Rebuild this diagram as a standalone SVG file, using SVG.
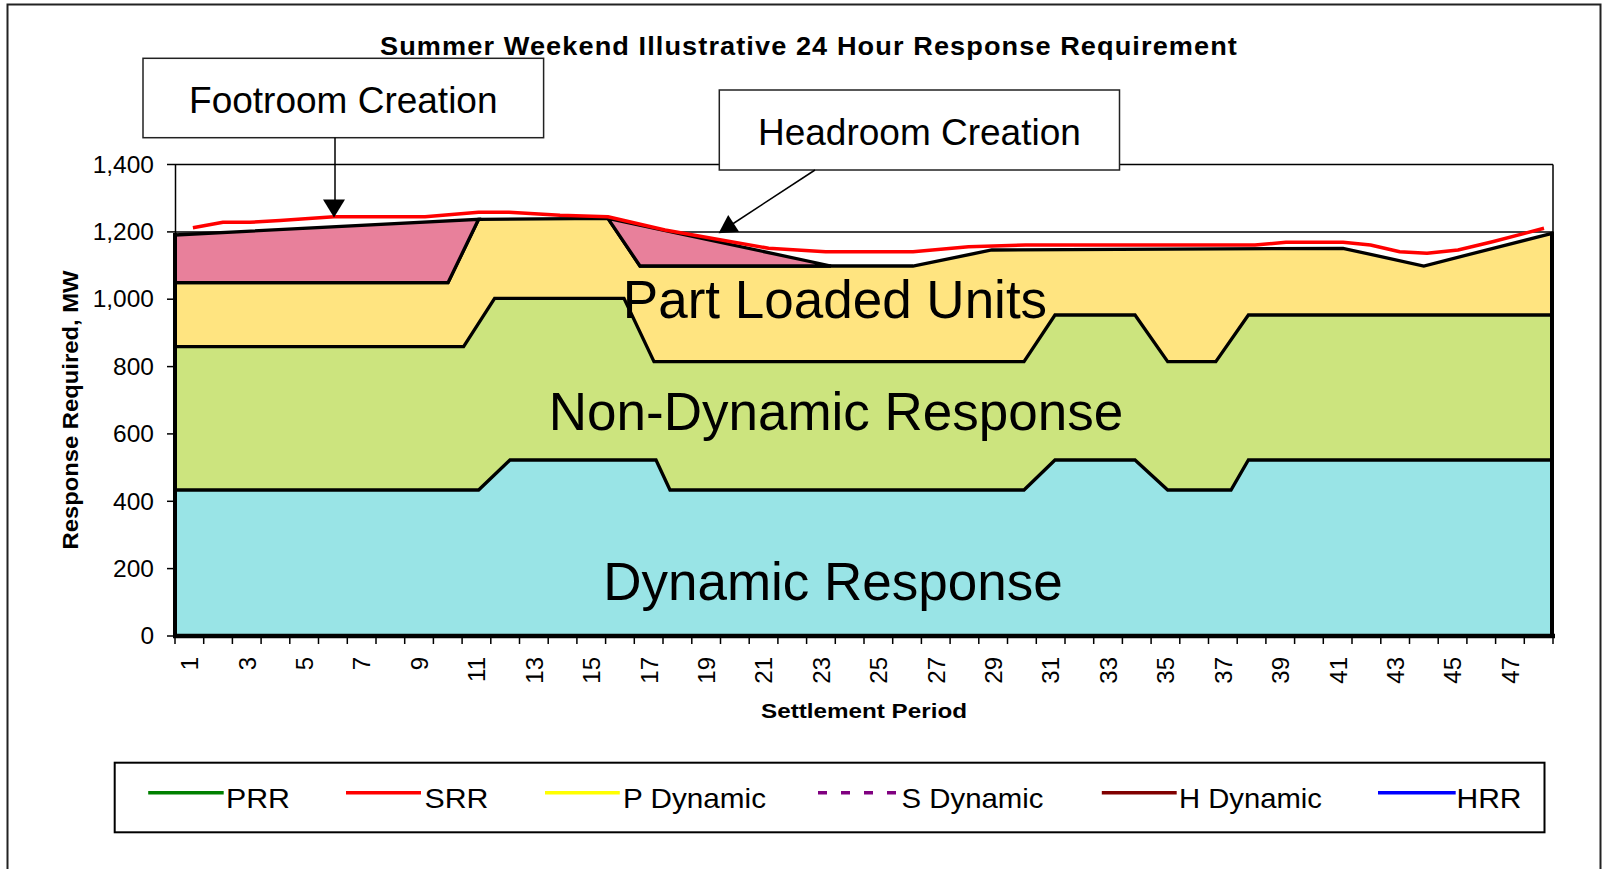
<svg xmlns="http://www.w3.org/2000/svg" width="1619" height="869" viewBox="0 0 1619 869">
<defs>
<style>
text{font-family:"Liberation Sans",Arial,sans-serif;fill:#000}
.b{font-weight:bold}
.area{stroke:#000;stroke-width:3.3;stroke-linejoin:miter}
.thin{stroke:#000;stroke-width:1.5;fill:none}
.tick{stroke:#000;stroke-width:1.5}
.ylab{font-size:23px;text-anchor:end}
.xlab{font-size:24px;text-anchor:end}
.big{font-size:53px;text-anchor:middle}
.box{fill:#fff;stroke:#222;stroke-width:1.5}
.boxtxt{font-size:37px;text-anchor:middle}
.leg{font-size:28px}
.legline{stroke-width:3.5;fill:none}
</style>
</defs>
<rect width="1619" height="869" fill="#fff"/>
<rect id="frame" x="7.5" y="4.5" width="1593" height="900" fill="none" stroke="#222" stroke-width="2"/>

<g id="plot">
<line class="thin" x1="175" y1="164.5" x2="1553" y2="164.5"/>
<line class="thin" x1="1553" y1="164.5" x2="1553" y2="636"/>
<line class="thin" x1="175" y1="231.9" x2="1553" y2="231.9"/>
<line class="thin" x1="175.5" y1="164.5" x2="175.5" y2="636"/>
<polygon id="part-loaded" class="area" fill="#FFE480" points="175,282.7 448,282.7 478.6,219.3 607.9,218.3 640,266 913,266 991.8,250 1343,248.3 1423.8,266 1552,233.3 1552,636 175,636"/>
<polygon id="footroom-area" class="area" fill="#E8809B" points="175,235 478.6,219.3 448,282.7 175,282.7"/>
<polygon id="headroom-area" class="area" fill="#E8809B" points="607.9,218.3 831,266 640,266"/>
<polygon id="non-dynamic" class="area" fill="#CCE47E" points="175,346.7 463.6,346.7 494.6,298.3 624,298.3 654,361.7 1024,361.7 1055,315 1135,315 1167.7,361.7 1215.8,361.7 1248.4,315 1552,315 1552,636 175,636"/>
<polygon id="dynamic" class="area" fill="#99E4E6" points="175,490 478.6,490 510,460 656,460 670,490 1024,490 1055,460 1135,460 1167.7,490 1231,490 1248.4,460 1552,460 1552,636 175,636"/>
<line x1="173" y1="636" x2="1555" y2="636" stroke="#000" stroke-width="4.5"/>
<line x1="1552" y1="232" x2="1552" y2="638" stroke="#000" stroke-width="4"/>
<line x1="175" y1="233" x2="175" y2="638" stroke="#000" stroke-width="4"/>
<polyline id="srr" fill="none" stroke="#FF0000" stroke-width="3.5" stroke-linejoin="round" points="192.9,227.7 223,222.3 250,222.3 280,220.5 334,216.7 425,216.7 478.6,212.3 509,212.3 560,215.3 607.9,216.7 665,230 768.6,248.3 825.7,251.7 913,251.7 968.6,246.7 1025.7,245 1255,245 1286,242.3 1343,242.3 1370.5,245 1399.7,251.7 1427,253.3 1458,250 1492.5,241.7 1544,228.3"/>
<text class="big" x="835" y="318">Part Loaded Units</text>
<text class="big" x="836" y="430">Non-Dynamic Response</text>
<text class="big" x="833" y="600">Dynamic Response</text>
</g>

<g id="y-axis">
<g class="tick">
<line x1="167" y1="636" x2="175" y2="636"/>
<line x1="167" y1="568.6" x2="175" y2="568.6"/>
<line x1="167" y1="501.3" x2="175" y2="501.3"/>
<line x1="167" y1="433.9" x2="175" y2="433.9"/>
<line x1="167" y1="366.6" x2="175" y2="366.6"/>
<line x1="167" y1="299.2" x2="175" y2="299.2"/>
<line x1="167" y1="231.9" x2="175" y2="231.9"/>
<line x1="167" y1="164.5" x2="175" y2="164.5"/>
</g>
<text class="ylab" x="154" y="644.2" textLength="13.6" lengthAdjust="spacingAndGlyphs">0</text>
<text class="ylab" x="154" y="576.8" textLength="40.9" lengthAdjust="spacingAndGlyphs">200</text>
<text class="ylab" x="154" y="509.5" textLength="40.9" lengthAdjust="spacingAndGlyphs">400</text>
<text class="ylab" x="154" y="442.1" textLength="40.9" lengthAdjust="spacingAndGlyphs">600</text>
<text class="ylab" x="154" y="374.8" textLength="40.9" lengthAdjust="spacingAndGlyphs">800</text>
<text class="ylab" x="154" y="307.4" textLength="61.3" lengthAdjust="spacingAndGlyphs">1,000</text>
<text class="ylab" x="154" y="240.1" textLength="61.3" lengthAdjust="spacingAndGlyphs">1,200</text>
<text class="ylab" x="154" y="172.7" textLength="61.3" lengthAdjust="spacingAndGlyphs">1,400</text>
<text class="b" transform="translate(77.5,410) rotate(-90)" text-anchor="middle" font-size="22.5" textLength="279" lengthAdjust="spacingAndGlyphs">Response Required, MW</text>
</g>

<g id="x-axis">
<path class="tick" d="M175,636v8M203.7,636v8M232.4,636v8M261.1,636v8M289.8,636v8M318.5,636v8M347.3,636v8M376,636v8M404.7,636v8M433.4,636v8M462.1,636v8M490.8,636v8M519.5,636v8M548.2,636v8M576.9,636v8M605.6,636v8M634.3,636v8M663,636v8M691.8,636v8M720.5,636v8M749.2,636v8M777.9,636v8M806.6,636v8M835.3,636v8M864,636v8M892.7,636v8M921.4,636v8M950.1,636v8M978.8,636v8M1007.5,636v8M1036.3,636v8M1065,636v8M1093.7,636v8M1122.4,636v8M1151.1,636v8M1179.8,636v8M1208.5,636v8M1237.2,636v8M1265.9,636v8M1294.6,636v8M1323.3,636v8M1352,636v8M1380.8,636v8M1409.5,636v8M1438.2,636v8M1466.9,636v8M1495.6,636v8M1524.3,636v8M1553,636v8"/>
<text class="xlab" transform="translate(198.2,657) rotate(-90)">1</text>
<text class="xlab" transform="translate(255.6,657) rotate(-90)">3</text>
<text class="xlab" transform="translate(313,657) rotate(-90)">5</text>
<text class="xlab" transform="translate(370.4,657) rotate(-90)">7</text>
<text class="xlab" transform="translate(427.8,657) rotate(-90)">9</text>
<text class="xlab" transform="translate(485.2,657) rotate(-90)">11</text>
<text class="xlab" transform="translate(542.7,657) rotate(-90)">13</text>
<text class="xlab" transform="translate(600.1,657) rotate(-90)">15</text>
<text class="xlab" transform="translate(657.5,657) rotate(-90)">17</text>
<text class="xlab" transform="translate(714.9,657) rotate(-90)">19</text>
<text class="xlab" transform="translate(772.3,657) rotate(-90)">21</text>
<text class="xlab" transform="translate(829.7,657) rotate(-90)">23</text>
<text class="xlab" transform="translate(887.2,657) rotate(-90)">25</text>
<text class="xlab" transform="translate(944.6,657) rotate(-90)">27</text>
<text class="xlab" transform="translate(1002,657) rotate(-90)">29</text>
<text class="xlab" transform="translate(1059.4,657) rotate(-90)">31</text>
<text class="xlab" transform="translate(1116.8,657) rotate(-90)">33</text>
<text class="xlab" transform="translate(1174.3,657) rotate(-90)">35</text>
<text class="xlab" transform="translate(1231.7,657) rotate(-90)">37</text>
<text class="xlab" transform="translate(1289.1,657) rotate(-90)">39</text>
<text class="xlab" transform="translate(1346.5,657) rotate(-90)">41</text>
<text class="xlab" transform="translate(1403.9,657) rotate(-90)">43</text>
<text class="xlab" transform="translate(1461.3,657) rotate(-90)">45</text>
<text class="xlab" transform="translate(1518.8,657) rotate(-90)">47</text>
<text class="b" x="864" y="718.3" text-anchor="middle" font-size="21" textLength="206" lengthAdjust="spacingAndGlyphs">Settlement Period</text>
</g>

<g id="footroom-creation">
<rect class="box" x="143" y="58.3" width="400.6" height="79.4"/>
<text class="boxtxt" x="343.3" y="113.3">Footroom Creation</text>
</g>
<g id="headroom-creation">
<rect class="box" x="719.3" y="90" width="400.2" height="80"/>
<text class="boxtxt" x="919.4" y="145">Headroom Creation</text>
</g>

<text id="title" class="b" x="380" y="54.5" font-size="25" letter-spacing="1" textLength="858" lengthAdjust="spacingAndGlyphs">Summer Weekend Illustrative 24 Hour Response Requirement</text>

<g id="connectors">
<line x1="335" y1="137.7" x2="335" y2="201" stroke="#000" stroke-width="1.5"/>
<polygon points="323,199.5 345,199.5 334,217.5" fill="#000"/>
<line x1="815" y1="170" x2="731" y2="225" stroke="#000" stroke-width="1.5"/>
<polygon points="718.6,233.3 739.1,231.8 728.2,215" fill="#000"/>
</g>

<g id="legend">
<rect x="114.7" y="762.7" width="1429.8" height="69.6" fill="#fff" stroke="#000" stroke-width="2"/>
<line class="legline" x1="148.2" y1="792.7" x2="223.7" y2="792.7" stroke="#008000"/>
<text class="leg" x="226" y="808.3" textLength="64" lengthAdjust="spacingAndGlyphs">PRR</text>
<line class="legline" x1="346" y1="792.7" x2="421" y2="792.7" stroke="#FF0000"/>
<text class="leg" x="424.5" y="808.3" textLength="64" lengthAdjust="spacingAndGlyphs">SRR</text>
<line class="legline" x1="545" y1="792.7" x2="619.8" y2="792.7" stroke="#FFFF00"/>
<text class="leg" x="623" y="808.3" textLength="143" lengthAdjust="spacingAndGlyphs">P Dynamic</text>
<line class="legline" x1="818" y1="792.7" x2="898" y2="792.7" stroke="#800080" stroke-width="4" stroke-dasharray="9,14"/>
<text class="leg" x="901.5" y="808.3" textLength="142" lengthAdjust="spacingAndGlyphs">S Dynamic</text>
<line class="legline" x1="1101.8" y1="792.7" x2="1176.7" y2="792.7" stroke="#800000"/>
<text class="leg" x="1179" y="808.3" textLength="143" lengthAdjust="spacingAndGlyphs">H Dynamic</text>
<line class="legline" x1="1378" y1="792.7" x2="1455.7" y2="792.7" stroke="#0000FF"/>
<text class="leg" x="1456.5" y="808.3" textLength="65" lengthAdjust="spacingAndGlyphs">HRR</text>
</g>
</svg>
